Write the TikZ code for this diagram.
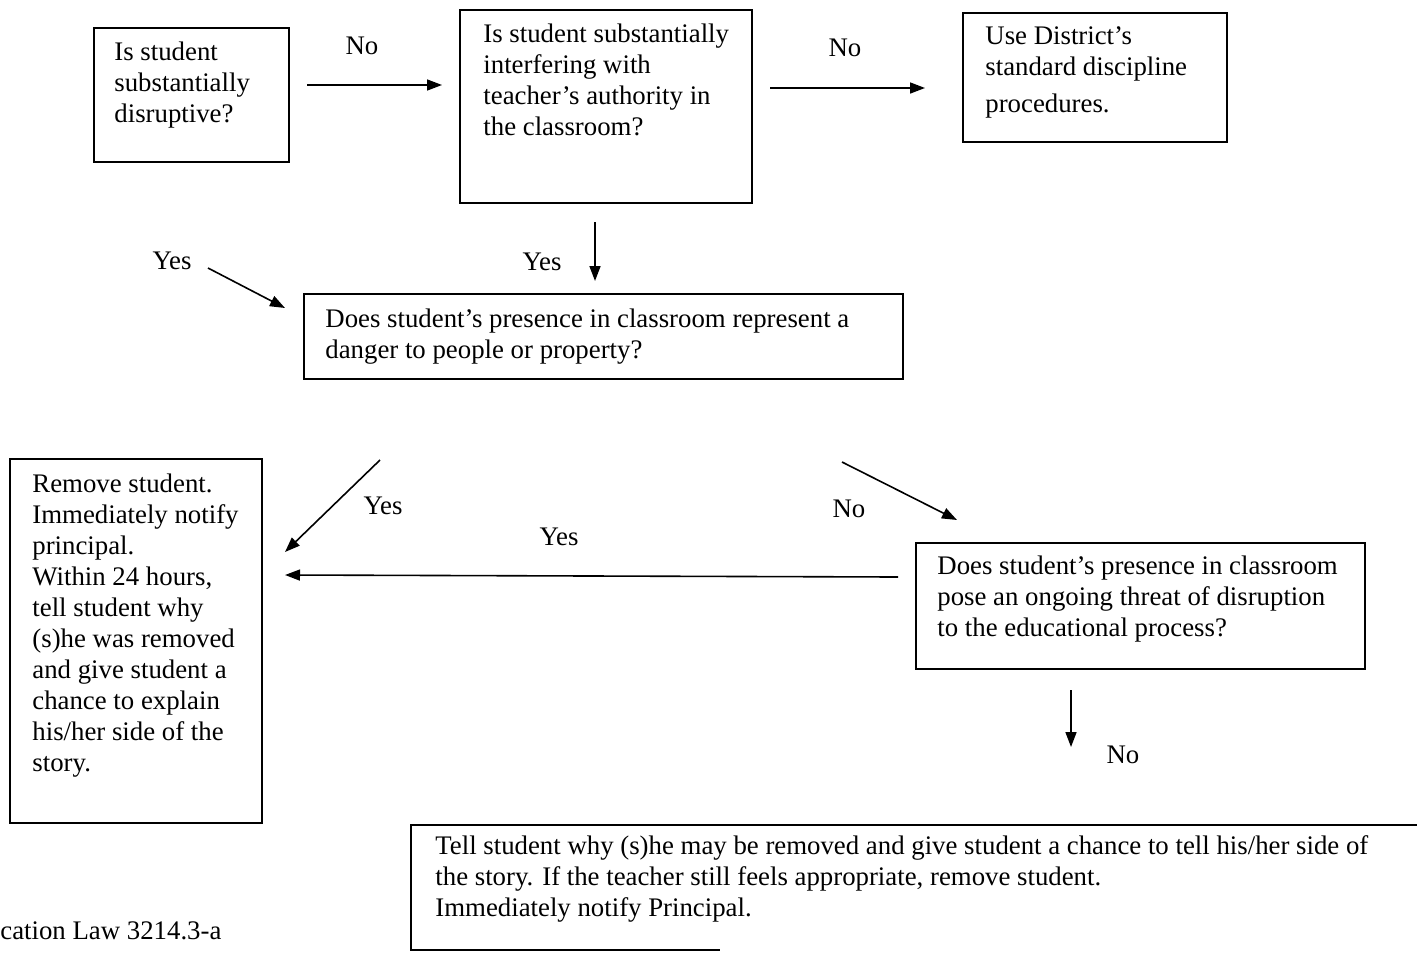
\documentclass[tikz,border=0pt]{standalone}
\usepackage{fontspec}
\setmainfont{Liberation Serif}
\usetikzlibrary{arrows.meta}
\begin{document}
\begin{tikzpicture}[x=0.5pt,y=-0.5pt,
  box/.style={draw, line width=1pt, inner sep=0pt, anchor=north west},
  txt/.style={anchor=north west, inner sep=0pt, align=left, font=\fontsize{13.4}{15.5}\selectfont},
  lbl/.style={inner sep=0pt, font=\fontsize{13.4}{15.5}\selectfont},
  arr/.style={line width=0.8pt, -{Triangle[length=7.5pt,width=5.5pt]}}]
\useasboundingbox (0,0) rectangle (1417,953);
% boxes
\node[box, minimum width=97.5pt, minimum height=67pt] (A) at (93,27) {};
\node[box, minimum width=146pt, minimum height=96.5pt] (B) at (459,9) {};
\node[box, minimum width=132pt, minimum height=64.5pt] (C) at (962,12) {};
\node[box, minimum width=299.5pt, minimum height=42.5pt] (D) at (303,293) {};
\node[box, minimum width=126pt, minimum height=182pt] (E) at (9,458) {};
\node[box, minimum width=224.5pt, minimum height=63pt] (F) at (915,542) {};
\coordinate (G) at (411,825);
\draw[line width=1pt] (1417,825) -- (G) -- (411,950) -- (720,950);
% texts
\node[txt] (tA) at (114,42) {Is student\\substantially\\disruptive?};
\node[txt] (tB) at (483,24) {Is student substantially\\interfering with\\teacher's authority in\\the classroom?};
\node[txt] (tC) at (985,26) {Use District's\\standard discipline\\[3pt]procedures.};
\node[txt] (tD) at (325,308) {Does student's presence in classroom represent a\\danger to people or property?};
\node[txt] (tE) at (32,473) {Remove student.\\Immediately notify\\principal.\\Within 24 hours,\\tell student why\\(s)he was removed\\and give student a\\chance to explain\\his/her side of the\\story.};
\node[txt] (tF) at (937,555) {Does student's presence in classroom\\pose an ongoing threat of disruption\\to the educational process?};
\node[txt] (tG) at (435,835) {Tell student why (s)he may be removed and give student a chance to tell his/her side of\\the story. If the teacher still feels appropriate, remove student.\\Immediately notify Principal.};
\node[lbl, anchor=west] (law) at (0,931) {cation Law 3214.3-a};
% arrow endpoints
\coordinate (a1s) at (307,85);  \coordinate (a1e) at (442,85);
\coordinate (a2s) at (770,88);  \coordinate (a2e) at (925,88);
\coordinate (a3s) at (595,222); \coordinate (a3e) at (595,281);
\coordinate (a4s) at (208,268); \coordinate (a4e) at (285,308);
\coordinate (a5s) at (380,460); \coordinate (a5e) at (285,552);
\coordinate (a6s) at (842,462); \coordinate (a6e) at (957,520);
\coordinate (a7s) at (898,577); \coordinate (a7e) at (285,575);
\coordinate (a8s) at (1071,690);\coordinate (a8e) at (1071,747);
\draw[arr] (a1s) -- (a1e);
\draw[arr] (a2s) -- (a2e);
\draw[arr] (a3s) -- (a3e);
\draw[arr] (a4s) -- (a4e);
\draw[arr] (a5s) -- (a5e);
\draw[arr] (a6s) -- (a6e);
\draw[arr] (a7s) -- (a7e);
\draw[arr] (a8s) -- (a8e);
% labels
\node[lbl] (l1) at (362,46) {No};
\node[lbl] (l2) at (845,48) {No};
\node[lbl] (l3) at (542,262) {Yes};
\node[lbl] (l4) at (172,261) {Yes};
\node[lbl] (l5) at (383,506) {Yes};
\node[lbl] (l6) at (849,509) {No};
\node[lbl] (l7) at (559,537) {Yes};
\node[lbl] (l8) at (1123,755) {No};
\end{tikzpicture}
\end{document}
